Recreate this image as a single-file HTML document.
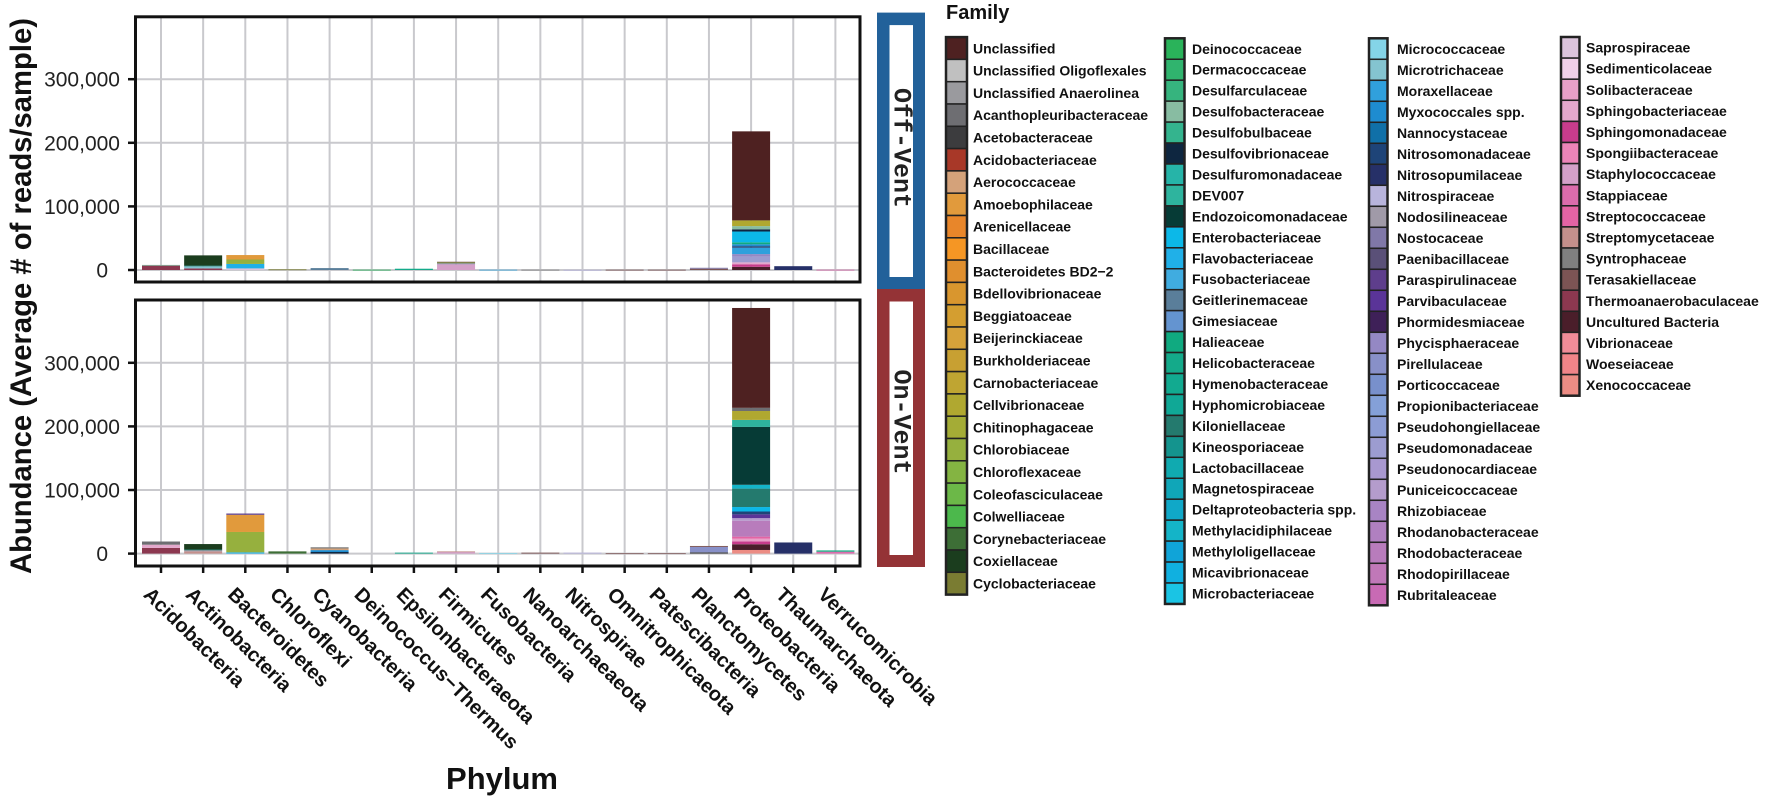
<!DOCTYPE html>
<html><head><meta charset="utf-8">
<style>
html,body{margin:0;padding:0;background:#fff;}
svg{display:block;}
text{font-family:"Liberation Sans",sans-serif;}
</style></head>
<body>
<svg id="chart" width="1772" height="797" viewBox="0 0 1772 797" xmlns="http://www.w3.org/2000/svg"></svg>
<script>
const phyla = ["Acidobacteria","Actinobacteria","Bacteroidetes","Chloroflexi","Cyanobacteria","Deinococcus\u2212Thermus","Epsilonbacteraeota","Firmicutes","Fusobacteria","Nanoarchaeaeota","Nitrospirae","Omnitrophicaeota","Patescibacteria","Planctomycetes","Proteobacteria","Thaumarchaeota","Verrucomicrobia"];
const yTicks = [0,100000,200000,300000];
const yTickLabels = ["0","100,000","200,000","300,000"];
const familyNames = ["Unclassified","Unclassified Oligoflexales","Unclassified Anaerolinea","Acanthopleuribacteraceae","Acetobacteraceae","Acidobacteriaceae","Aerococcaceae","Amoebophilaceae","Arenicellaceae","Bacillaceae","Bacteroidetes BD2\u22122","Bdellovibrionaceae","Beggiatoaceae","Beijerinckiaceae","Burkholderiaceae","Carnobacteriaceae","Cellvibrionaceae","Chitinophagaceae","Chlorobiaceae","Chloroflexaceae","Coleofasciculaceae","Colwelliaceae","Corynebacteriaceae","Coxiellaceae","Cyclobacteriaceae",
"Deinococcaceae","Dermacoccaceae","Desulfarculaceae","Desulfobacteraceae","Desulfobulbaceae","Desulfovibrionaceae","Desulfuromonadaceae","DEV007","Endozoicomonadaceae","Enterobacteriaceae","Flavobacteriaceae","Fusobacteriaceae","Geitlerinemaceae","Gimesiaceae","Halieaceae","Helicobacteraceae","Hymenobacteraceae","Hyphomicrobiaceae","Kiloniellaceae","Kineosporiaceae","Lactobacillaceae","Magnetospiraceae","Deltaproteobacteria spp.","Methylacidiphilaceae","Methyloligellaceae","Micavibrionaceae","Microbacteriaceae",
"Micrococcaceae","Microtrichaceae","Moraxellaceae","Myxococcales spp.","Nannocystaceae","Nitrosomonadaceae","Nitrosopumilaceae","Nitrospiraceae","Nodosilineaceae","Nostocaceae","Paenibacillaceae","Paraspirulinaceae","Parvibaculaceae","Phormidesmiaceae","Phycisphaeraceae","Pirellulaceae","Porticoccaceae","Propionibacteriaceae","Pseudohongiellaceae","Pseudomonadaceae","Pseudonocardiaceae","Puniceicoccaceae","Rhizobiaceae","Rhodanobacteraceae","Rhodobacteraceae","Rhodopirillaceae","Rubritaleaceae",
"Saprospiraceae","Sedimenticolaceae","Solibacteraceae","Sphingobacteriaceae","Sphingomonadaceae","Spongiibacteraceae","Staphylococcaceae","Stappiaceae","Streptococcaceae","Streptomycetaceae","Syntrophaceae","Terasakiellaceae","Thermoanaerobaculaceae","Uncultured Bacteria","Vibrionaceae","Woeseiaceae","Xenococcaceae"];
const familyColors = ["#4e2121","#c0c0c0","#9a9a9e","#6e6e72","#3c3c3e","#a83828","#d4a27a","#e19a3c","#e8862a","#f59624","#e08f2e","#d9962e","#d49e30","#d6a23a","#c8a032","#bfa532","#b0a830","#a4ac36","#96b03e","#84b442","#6cb848","#4cb84c","#3d6e36","#1b3d1e","#7a7c32",
"#2ab35a","#30b46e","#36b47e","#88bca2","#34b48e","#0e2640","#26b4a8","#2eb49e","#063b36","#0cb8e8","#20b0e8","#40ace0","#5a7e9a","#6494d0","#10aa80","#14aa8a","#12aa90","#10a896","#247a6e","#14948e","#10aab0","#10a6b8","#10a8c8","#14b4c8","#10a4d8","#10b0e0","#1ac4e4",
"#84d4e8","#84c4d0","#30a0dc","#1e8cd0","#1070a8","#1e4478","#263068","#b8b4dc","#a09aa8","#8078a8","#5a5078","#5e3e8c","#5a3498","#3e2058","#9488c4","#8890c8","#7890cc","#84a0d8","#8c9cd4","#9c9cd0","#a898d0","#b49ccc","#a884c4","#b080c0","#b87cbc","#c078b8","#c86ab4",
"#dcc4dc","#f0d0e8","#e8a0c8","#e4a8cc","#c83c8c","#ec84b8","#d4a0c8","#dc6cac","#e464a4","#c4908c","#808080","#7c5454","#8c3850","#4a1e2a","#f08c98","#f08488","#ec8c84"];
const legendColumnSizes = [25,27,27,17];

/* stacked segments, bottom-up, per phylum */
const offVentFamilies = [
 ["Thermoanaerobaculaceae","Desulfobacteraceae"],
 ["Thermoanaerobaculaceae","Microtrichaceae","Kiloniellaceae","Coxiellaceae"],
 ["Saprospiraceae","Flavobacteriaceae","Chlorobiaceae","Amoebophilaceae"],
 ["Cyclobacteriaceae"],
 ["Geitlerinemaceae"],
 ["Deinococcaceae"],
 ["Helicobacteraceae"],
 ["Staphylococcaceae","Nostocaceae","Chloroflexaceae","Terasakiellaceae"],
 ["Fusobacteriaceae"],
 ["Syntrophaceae"],
 ["Nitrospiraceae"],
 ["Terasakiellaceae"],
 ["Terasakiellaceae"],
 ["Terasakiellaceae","Nostocaceae"],
 ["Uncultured Bacteria","Sphingomonadaceae","Sphingobacteriaceae","Pseudomonadaceae","Phycisphaeraceae","Moraxellaceae","Nitrosomonadaceae","Myxococcales spp.","Halieaceae","Enterobacteriaceae","Desulfovibrionaceae","Desulfobacteraceae","Cellvibrionaceae","Unclassified"],
 ["Nitrosopumilaceae"],
 ["Stappiaceae"]
];
const offVentValues = [
 [7000,1000],
 [2500,3500,1000,16000],
 [2500,7000,7000,7000],
 [1000],[3000],[500],[2000],
 [9000,1500,1500,1000],
 [500],[500],[300],[500],[500],
 [2000,1500],
 [5000,4000,3000,9000,4000,10000,2500,3000,3000,17000,3500,5000,9000,140000],
 [6000],[500]
];
const onVentFamilies = [
 ["Thermoanaerobaculaceae","Sphingobacteriaceae","Acanthopleuribacteraceae"],
 ["Streptomycetaceae","Nodosilineaceae","Kiloniellaceae","Coxiellaceae"],
 ["Flavobacteriaceae","Chlorobiaceae","Amoebophilaceae","Paraspirulinaceae"],
 ["Coryneb acteriaceae".replace(" ","")],
 ["Desulfovibrionaceae","Myxococcales spp.","Aerococcaceae","Syntrophaceae"],
 ["Deinococcaceae"],
 ["Helicobacteraceae"],
 ["Staphylococcaceae","Streptomycetaceae"],
 ["Micrococcaceae"],
 ["Terasakiellaceae"],
 ["Nitrospiraceae"],
 ["Terasakiellaceae"],
 ["Terasakiellaceae"],
 ["Acetobacteraceae","Pirellulaceae","Terasakiellaceae"],
 ["Xenococcaceae","Uncultured Bacteria","Sphingomonadaceae","Solibacteraceae","Streptococcaceae","Rhodobacteraceae","Puniceicoccaceae","Parvibaculaceae","Nitrosomonadaceae","Enterobacteriaceae","Kiloniellaceae","Methylacidiphilaceae","Endozoicomonadaceae","DEV007","Cellvibrionaceae","Acanthopleuribacteraceae","Unclassified"],
 ["Nitrosopumilaceae"],
 ["Stappiaceae","Halieaceae"]
];
const onVentValues = [
 [9000,5000,5000],
 [3500,2000,1000,8500],
 [2000,32000,27000,2000],
 [3500],
 [2500,3000,2500,2000],
 [0],[1500],
 [2500,1000],
 [1000],[1500],[1500],[500],[500],
 [2000,8500,1500],
 [5700,9000,4500,4500,3000,25000,4000,6000,4500,7000,29000,6000,91000,11000,14000,5000,157000],
 [17500],
 [3000,2000]
];

const NS="http://www.w3.org/2000/svg";
const svg=document.getElementById('chart');
function el(tag,attrs,parent){const e=document.createElementNS(NS,tag);for(const k in attrs)e.setAttribute(k,attrs[k]);(parent||svg).appendChild(e);return e;}
function colorOf(name){const i=familyNames.indexOf(name);return i>=0?familyColors[i]:"#4a7a3a";}

const plotLeft=135.5, plotRight=860;
const catX0=161, catStep=42.15, barW=38;
function xScale(i){return catX0+i*catStep;}
const pxPer100k=63.6;
const panels=[
 {name:"off-vent",top:16.8,bottom:282,zero:270,fam:offVentFamilies,val:offVentValues},
 {name:"on-vent",top:300,bottom:566,zero:553.6,fam:onVentFamilies,val:onVentValues}
];

panels.forEach(p=>{
 const yScale=v=>p.zero-v/100000*pxPer100k;
 const g=el('g',{});
 
 
 // grid
 yTicks.forEach(t=>{
  const l=el('line',{x1:plotLeft,x2:plotRight,y1:yScale(t),y2:yScale(t),stroke:'#c9c9cd','stroke-width':2},g);
  
  
 });
 phyla.forEach((ph,i)=>{
  const l=el('line',{x1:xScale(i),x2:xScale(i),y1:p.top,y2:p.bottom,stroke:'#c9c9cd','stroke-width':2},g);
  
  
 });
 // bars
 phyla.forEach((ph,i)=>{
  let cum=0;
  p.fam[i].forEach((f,j)=>{
   const v=p.val[i][j];
   if(!v)return;
   const y1=yScale(cum+v), y0=yScale(cum);
   const r=el('rect',{x:xScale(i)-barW/2,y:y1,width:barW,height:Math.max(y0-y1,0.8),fill:colorOf(f)},g);
   
   
   cum+=v;
  });
 });
 // y ticks + labels
 yTicks.forEach((t,k)=>{
  const tk=el('line',{x1:128,x2:plotLeft,y1:yScale(t),y2:yScale(t),stroke:'#111','stroke-width':2.5},g);
  
  
  const tx=el('text',{x:k===0?108:120,y:yScale(t)+7.5,'text-anchor':'end','font-size':21,fill:'#222'},g);
  tx.textContent=yTickLabels[k];
  
  
 });
 const fr=el('rect',{x:plotLeft,y:p.top,width:plotRight-plotLeft,height:p.bottom-p.top,fill:'none',stroke:'#111','stroke-width':3},g);
 
 
});

// x ticks and labels
phyla.forEach((ph,i)=>{
 const tk=el('line',{x1:xScale(i),x2:xScale(i),y1:566,y2:573,stroke:'#111','stroke-width':2.5});
 
 
 const t=el('text',{transform:`translate(${xScale(i)-9},586) rotate(44.5)`,'font-size':20,'font-weight':'bold',fill:'#111','dominant-baseline':'hanging'});
 t.textContent=ph;
 
 
});

// axis titles
const yt=el('text',{transform:'translate(31,296) rotate(-90)','text-anchor':'middle','font-size':30,'font-weight':'bold',fill:'#111',textLength:556,lengthAdjust:'spacingAndGlyphs'});
yt.textContent="Abundance (Average # of reads/sample)";


const xt=el('text',{x:502,y:789,'text-anchor':'middle','font-size':31,'font-weight':'bold',fill:'#111'});
xt.textContent="Phylum";



// strips
const strips=[{label:"Off-Vent",color:"#22619a",y0:12.6,y1:289,ty:148},{label:"On-Vent",color:"#943336",y0:289,y1:567,ty:422}];
strips.forEach(s=>{
 const r=el('rect',{x:877,y:s.y0,width:48,height:s.y1-s.y0,fill:s.color});
 
 
 const w=el('rect',{x:889.5,y:s.y0+12.5,width:23.5,height:s.y1-s.y0-24.5,fill:'#fff'});
 
 
 const t=el('text',{transform:`translate(901,${s.ty}) rotate(90)`,'text-anchor':'middle','dominant-baseline':'central','font-size':25,'font-weight':'bold',fill:'#222',style:'font-family:"Liberation Mono",monospace'});
 t.textContent=s.label;
 
 
});

// legend
const lt=el('text',{x:946,y:19,'font-size':20,'font-weight':'bold',fill:'#111'});
lt.textContent="Family";


const colCfg=[{sx:946,sw:21,tx:973,top:37.1,pitch:22.3},{sx:1165,sw:19.5,tx:1192,top:38.3,pitch:20.95},{sx:1369,sw:18.5,tx:1397,top:38.3,pitch:21},{sx:1561,sw:18.5,tx:1586,top:37,pitch:21.1}];
let idx=0;
legendColumnSizes.forEach((n,c)=>{
 const cfg=colCfg[c];
 for(let k=0;k<n;k++,idx++){
  const y=cfg.top+k*cfg.pitch;
  const g=el('g',{});
  
  
  const r=el('rect',{x:cfg.sx,y:y,width:cfg.sw,height:cfg.pitch,fill:familyColors[idx],stroke:'#222','stroke-width':1.5},g);
  
  
  const t=el('text',{x:cfg.tx,y:y+cfg.pitch/2+5,'font-size':14,'font-weight':'bold',fill:'#111'},g);
  t.textContent=familyNames[idx];
  
  
 }
 const b=el('rect',{x:cfg.sx,y:cfg.top,width:cfg.sw,height:n*cfg.pitch,fill:'none',stroke:'#222','stroke-width':2.5});
 
 
});
</script>
</body></html>
